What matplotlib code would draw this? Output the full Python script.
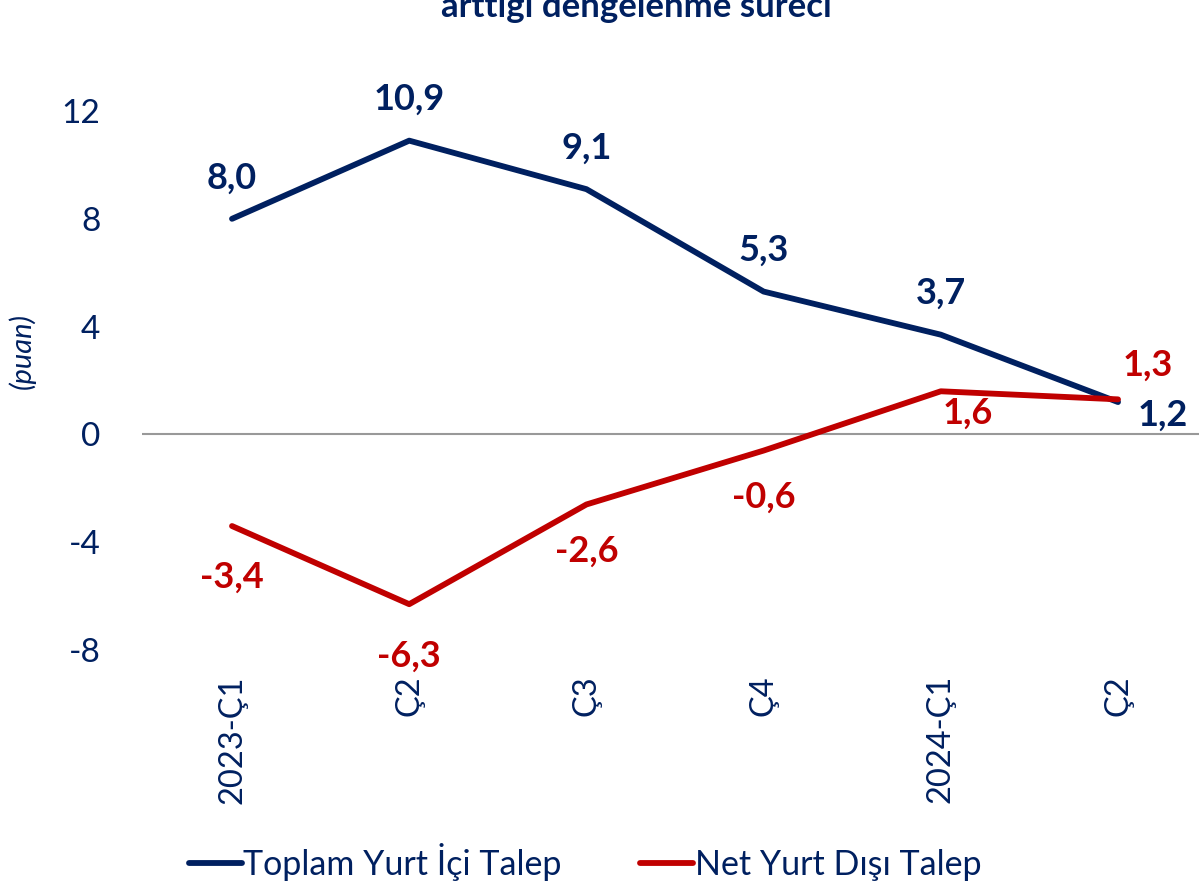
import matplotlib.pyplot as plt

plt.rcParams['font.family'] = ['Lato', 'DejaVu Sans']

categories = ['2023-Ç1', 'Ç2', 'Ç3', 'Ç4', '2024-Ç1', 'Ç2']
domestic = [8.0, 10.9, 9.1, 5.3, 3.7, 1.2]
external = [-3.4, -6.3, -2.6, -0.6, 1.6, 1.3]
yticks = [-8, -4, 0, 4, 8, 12]

NAVY = '#002060'
RED = '#C00000'

# label offsets in pixels (dx, dy)
dom_off = [(0, 41), (0, 41), (0, 41), (0, 41), (0, 41), (45, -13)]
ext_off = [(0, -51), (0, -52), (0, -47), (0, -47), (27, -22), (30, 34)]

fig = plt.figure(figsize=(11.99, 8.86), dpi=100)
ax = fig.add_axes([142 / 1199, 1 - 650 / 886, 1057 / 1199, 539 / 886])

x = list(range(len(categories)))
ax.axhline(0, color='#999999', lw=1.5, zorder=1)
ax.plot(x, domestic, color=NAVY, lw=4.2, solid_capstyle='round',
        label='Toplam Yurt İçi Talep', zorder=3)
ax.plot(x, external, color=RED, lw=4.2, solid_capstyle='round',
        label='Net Yurt Dışı Talep', zorder=3)

def fmt(v):
    return f'{v:.1f}'.replace('.', ',')

for xi, v, (dx, dy) in zip(x, domestic, dom_off):
    ax.annotate(fmt(v), (xi, v), xytext=(dx, dy), textcoords='offset pixels',
                ha='center', va='center', fontsize=26, fontweight='bold',
                color=NAVY)
for xi, v, (dx, dy) in zip(x, external, ext_off):
    ax.annotate(fmt(v), (xi, v), xytext=(dx, dy), textcoords='offset pixels',
                ha='center', va='center', fontsize=26, fontweight='bold',
                color=RED)

ax.set_xlim(-0.508, 5.457)
ax.set_ylim(-8, 12)
ax.set_yticks(yticks)
ax.set_yticklabels([str(t) for t in yticks])
ax.set_xticks(x)
ax.set_xticklabels(categories, rotation=90)
ax.tick_params(axis='y', length=0, pad=30, labelsize=24, labelcolor=NAVY)
ax.tick_params(axis='x', length=0, pad=18, labelsize=23.5, labelcolor=NAVY)
for s in ax.spines.values():
    s.set_visible(False)

fig.text(22 / 1199, 1 - 351 / 886, '(puan)', rotation=90, style='italic',
         fontsize=21, color=NAVY, ha='center', va='center')

fig.text(636 / 1199, 1 - 17 / 886, 'arttığı dengelenme süreci', ha='center',
         va='baseline', fontsize=25, fontweight='bold', color=NAVY)

leg = fig.legend(loc='center', bbox_to_anchor=(585 / 1199, 1 - 862 / 886),
                 ncol=2, frameon=False, fontsize=24.5, handlelength=1.55,
                 handletextpad=0.05, columnspacing=2.3)
for t in leg.get_texts():
    t.set_color(NAVY)

fig.savefig('out.png', dpi=100)
